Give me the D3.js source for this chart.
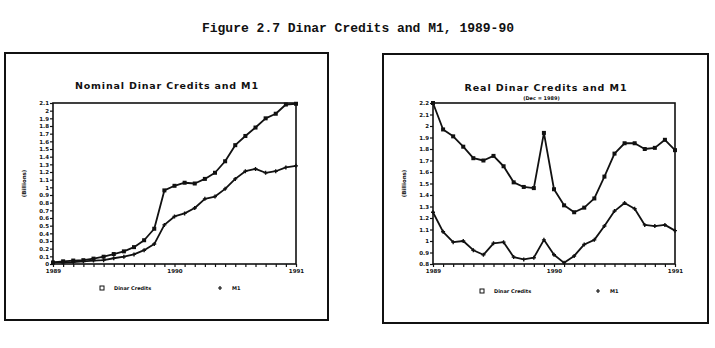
<!DOCTYPE html>
<html>
<head>
<meta charset="utf-8">
<script src="https://cdn.jsdelivr.net/npm/d3@7"></script>
<style>
  body { margin: 0; background: #fff; }
  svg text { font-family: "DejaVu Sans", sans-serif; font-weight: bold; fill: #111; }
  .fig-title { font-family: "Liberation Mono", "DejaVu Sans Mono", monospace; }
</style>
</head>
<body>
<div id="chart"></div>
<script>
// months Jan 1989 .. Jan 1991
const months = d3.range(0, 25);
const xTickLabels = {0: "1989", 12: "1990", 24: "1991"};

// nominal, billions
const nominalCredits = [0.02, 0.035, 0.045, 0.05, 0.07, 0.095, 0.13, 0.165, 0.22, 0.31, 0.46, 0.96, 1.02, 1.06, 1.05, 1.11, 1.19, 1.34, 1.55, 1.67, 1.78, 1.90, 1.96, 2.08, 2.09];
const nominalM1 = [0.02, 0.02, 0.025, 0.035, 0.045, 0.05, 0.075, 0.095, 0.125, 0.18, 0.26, 0.51, 0.62, 0.66, 0.73, 0.85, 0.88, 0.98, 1.11, 1.21, 1.24, 1.19, 1.21, 1.26, 1.28];
const nominalTicks = d3.range(0, 22).map(i => i / 10);

// real, base 1989
const realCredits = [2.2, 1.97, 1.91, 1.82, 1.72, 1.70, 1.74, 1.65, 1.51, 1.47, 1.46, 1.94, 1.45, 1.31, 1.25, 1.29, 1.37, 1.56, 1.76, 1.85, 1.85, 1.80, 1.81, 1.88, 1.79];
const realM1 = [1.25, 1.08, 0.99, 1.0, 0.92, 0.88, 0.98, 0.99, 0.86, 0.84, 0.855, 1.01, 0.88, 0.81, 0.87, 0.97, 1.01, 1.13, 1.26, 1.33, 1.28, 1.14, 1.13, 1.14, 1.09];
const realTicks = d3.range(8, 23).map(i => i / 10);

const svg = d3.select("#chart").append("svg")
    .attr("width", 715)
    .attr("height", 348);

svg.append("text")
    .attr("class", "fig-title")
    .attr("x", 358)
    .attr("y", 32)
    .attr("text-anchor", "middle")
    .attr("font-size", 13)
    .text("Figure 2.7 Dinar Credits and M1, 1989-90");

function drawPanel(cfg) {
    const g = svg.append("g");

    g.append("rect")
        .attr("x", cfg.box.x).attr("y", cfg.box.y)
        .attr("width", cfg.box.w).attr("height", cfg.box.h)
        .attr("fill", "none").attr("stroke", "#111").attr("stroke-width", 2);

    const p = cfg.plot;
    const xScale = d3.scaleLinear().domain([0, 24]).range([p.x, p.x + p.w]);
    const yScale = d3.scaleLinear().domain(cfg.yDomain).range([p.y + p.h, p.y]);

    g.append("rect")
        .attr("x", p.x).attr("y", p.y).attr("width", p.w).attr("height", p.h)
        .attr("fill", "none").attr("stroke", "#111").attr("stroke-width", 1.6);

    const yAxis = d3.axisLeft(yScale)
        .tickValues(cfg.yTicks)
        .tickSize(3)
        .tickFormat(d => String(+d.toFixed(1)));
    const yg = g.append("g").attr("transform", `translate(${p.x},0)`).call(yAxis);

    const xAxis = d3.axisBottom(xScale)
        .tickValues(months)
        .tickSize(3)
        .tickFormat(d => xTickLabels[d] || "");
    const xg = g.append("g").attr("transform", `translate(0,${p.y + p.h})`).call(xAxis);

    [yg, xg].forEach(a => {
        a.select(".domain").remove();
        a.selectAll(".tick line").attr("stroke", "#111").attr("stroke-width", 1.2);
        a.selectAll(".tick text").attr("font-size", 5.5).attr("font-family", "DejaVu Sans").attr("font-weight", "bold").attr("fill", "#111");
    });
    yg.selectAll(".tick text").attr("x", -4);
    xg.selectAll(".tick text").attr("y", 5);

    g.append("text")
        .attr("transform", `translate(${cfg.yLabelX},${p.y + p.h / 2}) rotate(-90)`)
        .attr("text-anchor", "middle")
        .attr("font-size", 5.5)
        .text(cfg.yLabel);

    const cx = cfg.box.x + cfg.box.w / 2;
    g.append("text")
        .attr("x", cx).attr("y", cfg.titleY)
        .attr("text-anchor", "middle")
        .attr("font-size", 9.5)
        .attr("textLength", cfg.titleW)
        .attr("lengthAdjust", "spacing")
        .text(cfg.title);

    if (cfg.subtitle) {
        g.append("text")
            .attr("x", cx - 4).attr("y", cfg.subtitleY)
            .attr("text-anchor", "middle")
            .attr("font-size", 5)
            .text(cfg.subtitle);
    }

    const line = d3.line()
        .x((d, i) => xScale(i))
        .y(d => yScale(d));

    [cfg.credits, cfg.m1].forEach(series => {
        g.append("path")
            .datum(series)
            .attr("d", line)
            .attr("fill", "none")
            .attr("stroke", "#111")
            .attr("stroke-width", 1.8)
            .attr("stroke-linejoin", "round");
    });

    g.selectAll(".sq")
        .data(cfg.credits)
        .enter()
        .append("rect")
            .attr("class", "sq")
            .attr("x", (d, i) => xScale(i) - 2)
            .attr("y", d => yScale(d) - 2)
            .attr("width", 4).attr("height", 4)
            .attr("fill", "#111");

    g.selectAll(".pl")
        .data(cfg.m1)
        .enter()
        .append("path")
            .attr("class", "pl")
            .attr("d", (d, i) => {
                const x = xScale(i), y = yScale(d);
                return `M${x - 2},${y}H${x + 2}M${x},${y - 2}V${y + 2}`;
            })
            .attr("stroke", "#111")
            .attr("stroke-width", 1.4);

    // legend
    const L = cfg.legend;
    g.append("rect")
        .attr("x", L.x - 2).attr("y", L.y - 2).attr("width", 4).attr("height", 4)
        .attr("fill", "none").attr("stroke", "#111").attr("stroke-width", 1);
    g.append("text").attr("x", L.x + 12).attr("y", L.y + 2)
        .attr("font-size", 5).text("Dinar Credits");
    g.append("path")
        .attr("d", `M${L.x2 - 2},${L.y}H${L.x2 + 2}M${L.x2},${L.y - 2}V${L.y + 2}`)
        .attr("stroke", "#111").attr("stroke-width", 1.2);
    g.append("text").attr("x", L.x2 + 12).attr("y", L.y + 2)
        .attr("font-size", 5).text("M1");
}

drawPanel({
    box: {x: 5, y: 53, w: 323, h: 267},
    plot: {x: 53, y: 103, w: 243, h: 161},
    yDomain: [0, 2.1],
    yTicks: nominalTicks,
    yLabel: "(Billions)",
    yLabelX: 26,
    title: "Nominal Dinar Credits and M1",
    titleY: 89,
    titleW: 183,
    credits: nominalCredits,
    m1: nominalM1,
    legend: {x: 102, x2: 220, y: 288}
});

drawPanel({
    box: {x: 383, y: 54, w: 325, h: 269},
    plot: {x: 433, y: 103, w: 242, h: 161},
    yDomain: [0.8, 2.2],
    yTicks: realTicks,
    yLabel: "(Billions)",
    yLabelX: 406,
    title: "Real Dinar Credits and M1",
    titleY: 91,
    titleW: 162,
    subtitle: "(Dec = 1989)",
    subtitleY: 100,
    credits: realCredits,
    m1: realM1,
    legend: {x: 482, x2: 598, y: 291}
});
</script>
</body>
</html>
